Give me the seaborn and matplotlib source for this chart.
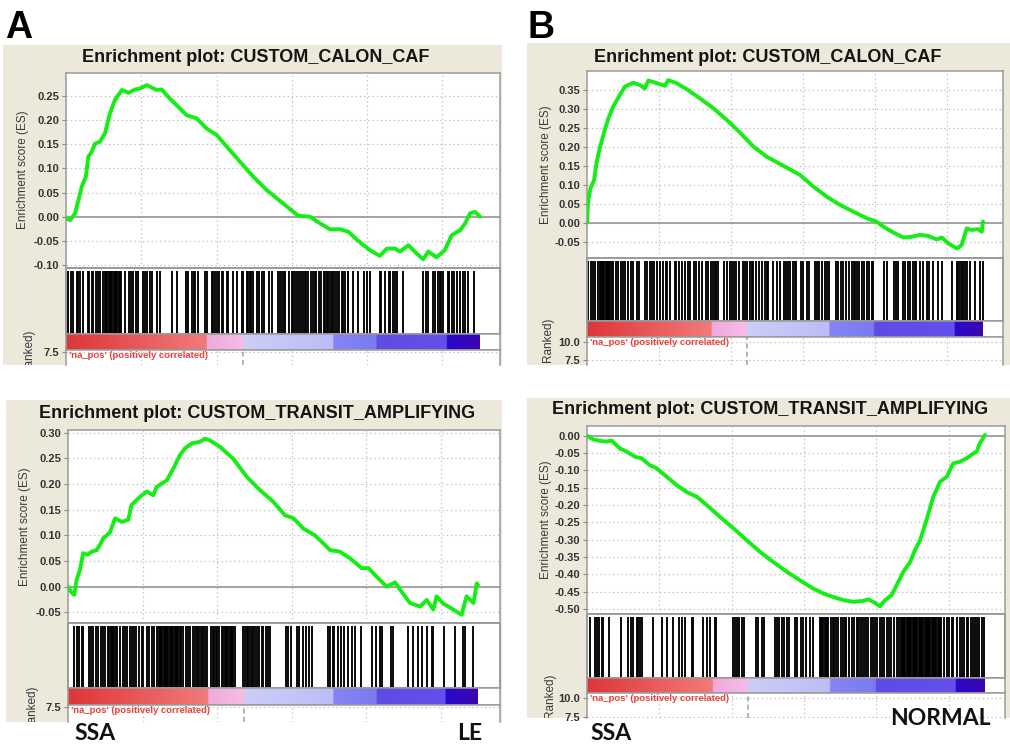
import numpy as np
import pandas as pd
import matplotlib
matplotlib.use("Agg")
import matplotlib.pyplot as plt
import seaborn as sns
from matplotlib.colors import to_rgb

sns.set_theme(style="white")
plt.rcParams["font.family"] = ["Liberation Sans", "DejaVu Sans"]

# ---------------- data ----------------
N_GENES = 27500          # length of the ranked list
GRID_STEP = 5000

# running enrichment score: position in ranked list (% of list) and ES value
a1_pos = [0, 1.0, 2.2, 3.0, 3.8, 4.8, 5.4, 6.2, 7.0, 8.2, 9.4, 10.6, 11.8, 13.5, 15.1, 16.7, 17.9, 19.5, 20.7, 21.9,
          23.1, 25.1, 27.5, 29.1, 31.6, 34.0, 36.4, 38.8, 42.0, 45.2, 48.5, 52.5, 56.1, 58.9, 61.4, 63.8, 66.2, 68.2,
          70.6, 73.4, 75.8, 77.5, 79.5, 80.7, 82.7, 84.7, 86.3, 87.5, 89.5, 91.5, 93.2, 95.2, 96.4, 97.6, 98.8, 100]
a1_es = [-0.004, -0.007, 0.007, 0.034, 0.062, 0.083, 0.124, 0.134, 0.151, 0.155, 0.172, 0.213, 0.241, 0.262, 0.256,
         0.263, 0.265, 0.272, 0.267, 0.262, 0.263, 0.244, 0.224, 0.210, 0.203, 0.182, 0.169, 0.145, 0.114, 0.083,
         0.055, 0.027, 0.002, 0.0, -0.014, -0.026, -0.026, -0.031, -0.050, -0.069, -0.081, -0.066, -0.066, -0.072,
         -0.059, -0.076, -0.088, -0.072, -0.084, -0.069, -0.038, -0.028, -0.014, 0.007, 0.010, 0.0]

b1_pos = [0, 0.3, 0.9, 1.8, 2.4, 3.3, 4.5, 5.4, 6.6, 8.3, 9.6, 11.7, 13.4, 14.6, 15.5, 17.6, 19.7, 20.5, 22.6, 25.2,
          28.5, 31.9, 35.3, 38.6, 42.0, 45.4, 49.6, 53.8, 57.2, 60.5, 63.9, 67.3, 70.6, 73.1, 74.8, 77.4, 79.9, 82.0,
          84.1, 86.2, 88.3, 89.6, 91.2, 93.4, 94.6, 95.9, 97.1, 98.8, 99.7, 100]
b1_es = [0.0, 0.06, 0.091, 0.113, 0.157, 0.20, 0.245, 0.275, 0.306, 0.337, 0.359, 0.369, 0.363, 0.354, 0.375, 0.368,
         0.361, 0.376, 0.368, 0.352, 0.328, 0.302, 0.271, 0.238, 0.201, 0.174, 0.150, 0.126, 0.095, 0.069, 0.047,
         0.029, 0.012, 0.003, -0.010, -0.026, -0.039, -0.037, -0.032, -0.035, -0.044, -0.039, -0.054, -0.068,
         -0.059, -0.015, -0.019, -0.017, -0.024, 0.003]

a2_pos = [0, 0.7, 1.5, 2.1, 2.9, 3.7, 4.7, 5.8, 7.0, 7.8, 8.6, 10.2, 11.5, 13.1, 14.7, 15.5, 17.6, 19.2, 20.8, 21.6,
          24.1, 25.7, 27.3, 28.5, 30.2, 32.2, 33.4, 34.6, 37.1, 40.3, 43.6, 46.8, 50.1, 52.9, 55.0, 57.4, 60.2, 62.3,
          63.9, 66.3, 68.8, 71.6, 73.3, 75.3, 77.7, 79.8, 81.0, 83.4, 85.9, 87.5, 89.1, 89.9, 91.5, 94.0, 96.0, 97.2,
          98.9, 99.7, 100]
a2_es = [0.0, -0.01, -0.016, 0.013, 0.032, 0.065, 0.062, 0.068, 0.071, 0.081, 0.094, 0.105, 0.133, 0.126, 0.130,
         0.159, 0.175, 0.185, 0.178, 0.194, 0.207, 0.230, 0.256, 0.269, 0.279, 0.282, 0.288, 0.285, 0.272, 0.249,
         0.214, 0.188, 0.165, 0.139, 0.133, 0.113, 0.100, 0.084, 0.071, 0.068, 0.055, 0.036, 0.036, 0.019, 0.0,
         0.008, -0.006, -0.032, -0.039, -0.026, -0.045, -0.019, -0.033, -0.045, -0.055, -0.019, -0.032, 0.006, 0.003]

b2_pos = [0, 1.6, 3.3, 4.9, 6.2, 8.3, 10.0, 12.1, 13.7, 15.8, 17.5, 20.0, 22.5, 25.0, 27.6, 30.1, 33.4, 36.8, 40.1,
          43.5, 46.8, 50.2, 53.5, 56.9, 59.4, 61.9, 64.4, 66.9, 69.4, 70.7, 72.4, 73.6, 74.9, 76.5, 77.8, 79.5, 81.2,
          82.4, 83.7, 85.3, 87.0, 88.7, 90.4, 92.0, 93.7, 95.4, 97.1, 97.9, 98.7, 100]
b2_es = [0, -0.011, -0.015, -0.017, -0.014, -0.037, -0.046, -0.061, -0.065, -0.085, -0.094, -0.118, -0.142, -0.162,
         -0.176, -0.200, -0.234, -0.267, -0.301, -0.335, -0.364, -0.392, -0.417, -0.441, -0.455, -0.465, -0.474,
         -0.479, -0.476, -0.472, -0.482, -0.492, -0.474, -0.460, -0.431, -0.392, -0.364, -0.330, -0.301, -0.243,
         -0.176, -0.133, -0.118, -0.080, -0.075, -0.065, -0.051, -0.046, -0.022, 0.002]

# gene-set hits (% of ranked list)
a1_hits = [0.6, 1.1, 1.8, 2.6, 3.0, 3.5, 4.2, 5.2, 5.6, 6.2, 6.6, 7.2, 7.8, 8.2, 8.9, 9.4, 9.7, 10.0, 10.3, 10.6,
           10.9, 11.2, 11.5, 11.8, 12.1, 12.4, 12.7, 13.0, 13.4, 14.3, 15.1, 15.6, 16.1, 16.9, 17.5, 18.5, 19.1, 19.6,
           20.3, 20.7, 22.1, 22.7, 25.5, 26.7, 29.1, 29.5, 30.4, 30.8, 31.2, 32.0, 33.6, 34.0, 35.2, 35.6, 36.0, 36.4,
           37.0, 37.6, 38.0, 38.8, 39.2, 40.4, 41.4, 42.4, 42.8, 43.8, 44.0, 44.4, 44.8, 45.2, 46.1, 46.7, 47.3, 47.8,
           49.1, 49.7, 51.3, 51.7, 52.1, 52.7, 52.9, 53.9, 54.5, 54.9, 55.3, 55.9, 56.4, 56.7, 57.2, 57.7, 58.0, 58.5,
           59.1, 59.7, 60.1, 60.5, 61.2, 61.5, 62.3, 62.6, 63.0, 63.4, 63.8, 64.2, 64.6, 65.0, 65.4, 66.0, 66.6, 67.0,
           67.4, 68.0, 68.2, 69.4, 70.6, 72.0, 72.6, 73.4, 75.8, 76.2, 77.1, 77.9, 78.3, 78.9, 79.5, 80.0, 81.3, 86.3,
           87.0, 87.5, 88.6, 89.1, 89.9, 90.3, 90.7, 91.1, 92.2, 92.6, 93.2, 93.6, 94.4, 95.2, 96.0, 96.4, 97.2, 98.6]
b1_hits = [0.3, 0.9, 1.4, 2.0, 2.9, 3.2, 3.5, 3.8, 4.1, 4.4, 4.7, 5.0, 5.3, 5.6, 5.8, 6.2, 6.6, 7.3, 7.9, 8.5, 9.0,
           9.6, 10.4, 11.0, 11.7, 12.5, 13.2, 14.6, 15.1, 15.9, 16.3, 16.9, 17.6, 18.4, 19.1, 20.0, 20.3, 21.0, 22.1,
           22.6, 23.3, 23.9, 24.7, 25.6, 26.0, 26.9, 27.5, 28.4, 29.0, 30.1, 30.6, 31.2, 31.9, 32.3, 32.7, 33.2, 34.6,
           35.3, 36.1, 36.5, 37.1, 37.6, 38.5, 39.5, 39.9, 40.3, 41.2, 41.6, 42.0, 42.7, 43.5, 44.1, 44.9, 45.4, 45.8,
           46.9, 47.9, 48.7, 49.7, 50.3, 50.8, 51.3, 52.1, 52.5, 52.9, 54.0, 54.5, 55.5, 56.1, 57.6, 58.2, 58.7, 59.3,
           60.1, 60.7, 61.2, 62.9, 63.5, 64.1, 64.7, 65.4, 66.2, 66.8, 67.3, 67.7, 68.1, 68.8, 69.4, 70.0, 70.6, 71.3,
           71.9, 72.3, 75.0, 75.8, 77.5, 78.0, 78.6, 79.7, 80.3, 81.1, 81.6, 82.2, 82.8, 83.2, 84.1, 84.9, 85.8, 86.4,
           87.3, 88.7, 89.6, 92.1, 93.4, 93.8, 94.2, 94.6, 95.0, 95.5, 95.9, 96.7, 98.0, 99.2, 99.9]
a2_hits = [1.5, 2.1, 2.8, 3.3, 3.7, 5.0, 5.5, 6.2, 6.8, 7.4, 8.0, 8.5, 9.0, 9.8, 10.1, 10.4, 10.7, 11.0, 11.3, 11.6,
           11.9, 12.7, 13.5, 13.9, 14.3, 15.0, 15.5, 16.1, 16.7, 17.4, 18.0, 18.4, 19.3, 19.8, 20.4, 21.0, 21.8, 22.1,
           22.4, 22.7, 23.0, 23.3, 23.6, 23.9, 24.2, 24.5, 24.8, 25.1, 25.4, 25.7, 26.0, 26.3, 26.6, 26.9, 27.2, 27.6,
           28.1, 28.8, 29.3, 29.8, 30.4, 31.0, 31.4, 31.8, 32.2, 32.6, 33.0, 33.4, 33.8, 34.8, 35.3, 35.6, 36.1, 36.4,
           36.9, 37.5, 37.9, 38.2, 38.5, 38.8, 39.1, 39.4, 39.7, 40.0, 40.3, 40.7, 42.6, 43.2, 43.6, 44.0, 44.4, 44.8,
           45.2, 45.6, 46.0, 46.7, 47.2, 47.6, 48.3, 48.9, 49.3, 53.2, 53.7, 54.3, 55.8, 56.4, 57.4, 58.0, 58.9, 59.4,
           63.5, 63.9, 64.6, 64.9, 65.9, 66.7, 67.3, 68.4, 69.2, 70.0, 71.4, 74.1, 75.1, 76.1, 76.5, 78.9, 79.3, 83.0,
           84.2, 85.4, 86.3, 87.5, 88.9, 89.1, 91.7, 94.4, 96.4, 96.8, 98.9]
b2_hits = [0.8, 2.0, 2.6, 3.1, 3.7, 4.1, 5.6, 8.5, 10.4, 11.0, 11.5, 12.5, 12.9, 13.3, 13.7, 16.7, 18.8, 20.2, 21.7,
           23.2, 23.8, 24.6, 26.3, 26.7, 29.2, 30.1, 30.9, 32.2, 32.4, 36.6, 37.2, 37.8, 38.3, 38.9, 39.4, 42.5, 43.0,
           43.9, 44.5, 47.2, 47.7, 48.3, 48.9, 49.5, 50.2, 50.8, 52.3, 52.8, 53.7, 54.2, 55.0, 56.0, 56.9, 58.5, 58.8,
           59.1, 59.4, 59.7, 60.0, 60.3, 60.6, 61.2, 61.7, 62.1, 62.6, 63.1, 63.7, 64.4, 64.8, 65.2, 65.9, 66.5, 67.1,
           67.8, 68.2, 68.6, 69.0, 69.6, 70.1, 70.7, 71.3, 71.8, 72.4, 72.9, 73.6, 74.0, 74.6, 75.3, 76.0, 76.5, 77.1,
           77.8, 78.5, 78.8, 79.1, 79.4, 79.7, 80.0, 80.3, 80.6, 80.9, 81.2, 81.5, 81.8, 82.1, 82.4, 82.7, 83.0, 83.3,
           83.6, 83.9, 84.2, 84.5, 84.8, 85.1, 85.4, 85.7, 86.0, 86.3, 86.6, 86.9, 87.2, 87.5, 87.8, 88.1, 88.4, 88.7,
           89.0, 89.7, 90.4, 91.0, 91.6, 92.0, 92.9, 93.6, 94.1, 94.7, 95.4, 95.8, 96.4, 97.0, 97.5, 98.1, 98.6, 99.2,
           99.7]

# ranked-list metric colour bands: right edge of each band (% of list)
a1_bands = [34.0, 42.8, 64.6, 75.0, 92.0, 100.0]
b1_bands = [31.5, 40.3, 61.2, 72.5, 92.9, 100.0]
a2_bands = [34.2, 43.0, 64.7, 75.3, 92.1, 100.0]
b2_bands = [31.6, 40.4, 61.1, 72.6, 92.7, 100.0]

a1_ticks = [-0.10, -0.05, 0.00, 0.05, 0.10, 0.15, 0.20, 0.25]
b1_ticks = [-0.05, 0.00, 0.05, 0.10, 0.15, 0.20, 0.25, 0.30, 0.35]
a2_ticks = [-0.05, 0.00, 0.05, 0.10, 0.15, 0.20, 0.25, 0.30]
b2_ticks = [-0.50, -0.45, -0.40, -0.35, -0.30, -0.25, -0.20, -0.15, -0.10, -0.05, 0.00]

title_caf = "Enrichment plot: CUSTOM_CALON_CAF"
title_ta = "Enrichment plot: CUSTOM_TRANSIT_AMPLIFYING"
pos_label = "'na_pos' (positively correlated)"
es_label = "Enrichment score (ES)"
rank_label = "Ranked)"      # only this end of the metric-axis label is visible (cropped)

# ---------------- style ----------------
BEIGE = "#ece9da"
GREEN = "#14ee14"
FRAME = "#9a9a9a"
GRIDC = "#c4c4c4"
BAND_COLORS = [("#de3638", "#f27a7a"), ("#efaadb", "#f6bce6"), ("#cdcdf8", "#bdbdf6"),
               ("#8585f5", "#7a7af2"), ("#5e4ce4", "#6450ec"), ("#2a08cc", "#3c06b0")]

W, H = 1010, 745
fig = plt.figure(figsize=(W / 100, H / 100), dpi=100)
fig.patch.set_facecolor("white")


def fbox(x0, y0, x1, y1):
    return [x0 / W, 1 - y1 / H, (x1 - x0) / W, (y1 - y0) / H]


def band_image(bands):
    xs = np.linspace(0, 100, 1400)
    edges = [0] + list(bands)
    img = np.ones((1, len(xs), 3))
    for i, (c0, c1) in enumerate(BAND_COLORS):
        m = (xs >= edges[i]) & (xs <= edges[i + 1])
        t = (xs[m] - edges[i]) / (edges[i + 1] - edges[i])
        a, b = np.array(to_rgb(c0)), np.array(to_rgb(c1))
        img[0, m] = a + (b - a) * t[:, None]
    return img


def style_frame(ax, lw=1.1):
    for s in ax.spines.values():
        s.set_color(FRAME)
        s.set_linewidth(lw)
        s.set_visible(True)


def ytick_style(ax):
    ax.tick_params(axis="y", length=3, width=0.8, color="#888888", pad=2,
                   labelsize=8, labelcolor="#333333", left=True)
    for lb in ax.get_yticklabels():
        lb.set_fontweight("bold")


def draw_panel(L, title, pos, es, hits, bands, es_ticks):
    # beige panel background
    bg = fig.add_axes(fbox(*L["bg"]))
    bg.set_facecolor(BEIGE)
    bg.set_xticks([]); bg.set_yticks([])
    for s in bg.spines.values():
        s.set_visible(False)

    left, right = L["es"][0], L["es"][2]
    xmax = N_GENES * (right - left) / (L["end"] - left)
    gridx = np.arange(GRID_STEP, xmax, GRID_STEP)

    tx, ty = L["title"]
    fig.text(tx / W, 1 - ty / H, title, ha="center", va="center", fontsize=13,
             fontweight="bold", color="#141414")

    # running enrichment score
    ax = fig.add_axes(fbox(*L["es"]))
    ax.set_facecolor("white")
    df = pd.DataFrame({"rank": np.asarray(pos) * N_GENES / 100, "es": es})
    ax.axhline(0, color="#a3a3a3", lw=1.4, zorder=2)
    sns.lineplot(data=df, x="rank", y="es", ax=ax, color=GREEN, lw=2.8, zorder=5)
    ax.set_xlim(0, xmax)
    ax.set_ylim(*L["es_ylim"])
    ax.set_xticks(gridx); ax.set_xticklabels([])
    ax.tick_params(axis="x", length=0)
    ax.set_yticks(es_ticks)
    ax.set_yticklabels([f"{t:.2f}" for t in es_ticks])
    ax.grid(True, color=GRIDC, ls=(0, (1.2, 2.2)), lw=0.9)
    ax.set_xlabel(""); ax.set_ylabel("")
    style_frame(ax); ytick_style(ax)
    lx, ly = L["ylab"]
    fig.text(lx / W, 1 - ly / H, es_label, rotation=90, ha="center",
             va="center", fontsize=8.5, color="#3a3a3a")

    # hits
    hx = fig.add_axes(fbox(*L["hits"]))
    hx.set_facecolor("white")
    hx.vlines(np.asarray(hits) * N_GENES / 100, 0, 0.955, color="black", lw=1.35)
    hx.set_xlim(0, xmax); hx.set_ylim(0, 1)
    hx.set_xticks([]); hx.set_yticks([])
    style_frame(hx, 1.4)

    # colour bar of the ranked metric
    cx = fig.add_axes(fbox(*L["cbar"]))
    cx.set_facecolor("white")
    cx.imshow(band_image(bands), extent=(0, N_GENES, 0, 1), aspect="auto",
              interpolation="bilinear")
    cx.set_xlim(0, xmax); cx.set_ylim(0, 1)
    cx.set_xticks([]); cx.set_yticks([])
    style_frame(cx)

    # ranked list metric (cropped)
    rx = fig.add_axes(fbox(*L["ranked"]))
    rx.set_facecolor("white")
    rx.set_xlim(0, xmax); rx.set_ylim(*L["rk_ylim"])
    rx.set_xticks(gridx); rx.set_xticklabels([])
    rx.tick_params(axis="x", length=0)
    rx.set_yticks(L["rk_ticks"])
    rx.set_yticklabels([f"{t:.1f}" for t in L["rk_ticks"]])
    rx.grid(True, color=GRIDC, ls=(0, (1.2, 2.2)), lw=0.9)
    rx.axvline(bands[1] * N_GENES / 100, color="#a8a8a8", ls=(0, (3, 2)), lw=1.2)
    style_frame(rx); ytick_style(rx)
    rx.spines["bottom"].set_visible(False)
    rx.annotate(pos_label, xy=(0, 1), xycoords="axes fraction", xytext=(2, -1),
                textcoords="offset points", ha="left", va="top", fontsize=6.8,
                fontweight="bold", color="#e8403a", annotation_clip=False)
    rlx, rly = L["ylab2"]
    t = bg.text(rlx / W, 1 - rly / H, rank_label, transform=fig.transFigure,
                rotation=90, ha="center", va="top", fontsize=8.5, color="#3a3a3a", clip_on=True)
    t.set_clip_box(bg.bbox)


layouts = {
    "A1": dict(bg=(3, 45, 502, 365), title=(256, 58), es=(66, 73, 500, 268), end=480,
               hits=(66, 268, 500, 334), cbar=(66, 334, 500, 350), ranked=(66, 350, 500, 365),
               es_ylim=(-0.106, 0.297), rk_ylim=(5.69, 7.78), rk_ticks=[7.5], ylab=(23, 170),
               ylab2=(29, 330)),
    "B1": dict(bg=(527, 43, 1010, 365), title=(768, 57), es=(587, 71, 1003, 258), end=983,
               hits=(587, 258, 1003, 321), cbar=(587, 321, 1003, 337), ranked=(587, 337, 1003, 365),
               es_ylim=(-0.093, 0.40), rk_ylim=(6.81, 10.69), rk_ticks=[7.5, 10.0], ylab=(546, 165),
               ylab2=(548, 318)),
    "A2": dict(bg=(6, 400, 502, 722), title=(257, 413), es=(68, 430, 500, 623), end=478,
               hits=(68, 623, 500, 688), cbar=(68, 688, 500, 705), ranked=(68, 705, 500, 722),
               es_ylim=(-0.071, 0.305), rk_ylim=(5.42, 7.78), rk_ticks=[7.5], ylab=(25, 527),
               ylab2=(32, 685)),
    "B2": dict(bg=(527, 398, 1010, 718), title=(770, 410), es=(587, 426, 1005, 614), end=985,
               hits=(587, 614, 1005, 678), cbar=(587, 678, 1005, 693), ranked=(587, 693, 1005, 718),
               es_ylim=(-0.514, 0.028), rk_ylim=(7.37, 10.66), rk_ticks=[7.5, 10.0], ylab=(546, 520),
               ylab2=(550, 673)),
}

draw_panel(layouts["A1"], title_caf, a1_pos, a1_es, a1_hits, a1_bands, a1_ticks)
draw_panel(layouts["B1"], title_caf, b1_pos, b1_es, b1_hits, b1_bands, b1_ticks)
draw_panel(layouts["A2"], title_ta, a2_pos, a2_es, a2_hits, a2_bands, a2_ticks)
draw_panel(layouts["B2"], title_ta, b2_pos, b2_es, b2_hits, b2_bands, b2_ticks)

# panel letters and group labels
fig.text(5 / W, 1 - 38 / H, "A", fontsize=27, fontweight="bold", color="black", va="baseline", zorder=10)
fig.text(527 / W, 1 - 38 / H, "B", fontsize=27, fontweight="bold", color="black", va="baseline", zorder=10)
glab = dict(fontsize=16.5, fontweight="bold", color="#111111", va="baseline", zorder=10,
            family=["Lato", "DejaVu Sans"])
fig.text(74 / W, 1 - 740 / H, "SSA", **glab)
fig.text(457 / W, 1 - 740 / H, "LE", **glab)
fig.text(590 / W, 1 - 740 / H, "SSA", **glab)
fig.text(890 / W, 1 - 725 / H, "NORMAL", **glab)

fig.savefig("out.png", dpi=100)
